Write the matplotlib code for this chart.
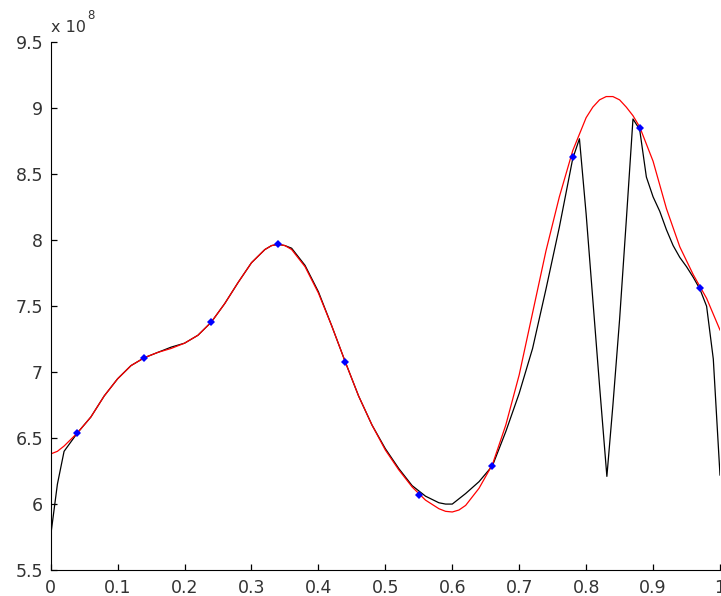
import matplotlib.pyplot as plt

# sample nodes (values in units of 1e8)
node_x = [0.04, 0.14, 0.24, 0.34, 0.44, 0.55, 0.66, 0.78, 0.88, 0.97]
node_y = [6.54, 7.11, 7.38, 7.97, 7.08, 6.07, 6.29, 8.635, 8.85, 7.64]

# measured signal (black)
sig_x = [0.00, 0.01, 0.02, 0.03, 0.04, 0.06, 0.08, 0.10, 0.12, 0.14, 0.16, 0.18,
         0.20, 0.22, 0.24, 0.26, 0.28, 0.30, 0.32, 0.33, 0.34, 0.35, 0.36, 0.38,
         0.40, 0.42, 0.44, 0.46, 0.48, 0.50, 0.52, 0.54, 0.56, 0.58, 0.59, 0.60,
         0.62, 0.64, 0.66, 0.68, 0.70, 0.72, 0.74, 0.76, 0.78, 0.79, 0.80, 0.81,
         0.82, 0.831, 0.84, 0.85, 0.86, 0.87, 0.88, 0.89, 0.90, 0.91, 0.92, 0.93,
         0.94, 0.95, 0.96, 0.97, 0.98, 0.99, 1.00]
sig_y = [5.76, 6.15, 6.40, 6.47, 6.54, 6.66, 6.82, 6.95, 7.05, 7.11, 7.15, 7.19,
         7.22, 7.28, 7.38, 7.52, 7.68, 7.83, 7.93, 7.96, 7.97, 7.96, 7.94, 7.81,
         7.61, 7.35, 7.08, 6.82, 6.60, 6.42, 6.27, 6.14, 6.06, 6.01, 6.00, 6.00,
         6.08, 6.17, 6.29, 6.55, 6.84, 7.18, 7.63, 8.10, 8.62, 8.77, 8.20, 7.55,
         6.90, 6.21, 6.75, 7.40, 8.15, 8.92, 8.84, 8.48, 8.33, 8.22, 8.08, 7.96,
         7.87, 7.80, 7.72, 7.63, 7.50, 7.10, 6.22]

# smooth fit (red)
fit_x = [0.00, 0.01, 0.02, 0.04, 0.06, 0.08, 0.10, 0.12, 0.14, 0.16, 0.18, 0.20,
         0.22, 0.24, 0.26, 0.28, 0.30, 0.32, 0.33, 0.34, 0.35, 0.36, 0.38, 0.40,
         0.42, 0.44, 0.46, 0.48, 0.50, 0.52, 0.54, 0.56, 0.58, 0.59, 0.60, 0.61,
         0.62, 0.64, 0.66, 0.68, 0.70, 0.72, 0.74, 0.76, 0.78, 0.80, 0.81, 0.82,
         0.83, 0.84, 0.85, 0.86, 0.87, 0.88, 0.90, 0.92, 0.94, 0.96, 0.98, 1.00]
fit_y = [6.38, 6.40, 6.44, 6.54, 6.66, 6.82, 6.95, 7.05, 7.11, 7.15, 7.18, 7.22,
         7.28, 7.38, 7.52, 7.68, 7.83, 7.93, 7.96, 7.97, 7.96, 7.93, 7.80, 7.60,
         7.35, 7.08, 6.82, 6.60, 6.41, 6.26, 6.13, 6.03, 5.965, 5.945, 5.94, 5.955,
         5.99, 6.12, 6.30, 6.60, 6.98, 7.45, 7.92, 8.33, 8.68, 8.93, 9.01, 9.065,
         9.09, 9.09, 9.065, 9.01, 8.945, 8.86, 8.60, 8.24, 7.95, 7.74, 7.56, 7.32]

x_ticks = [0, 0.1, 0.2, 0.3, 0.4, 0.5, 0.6, 0.7, 0.8, 0.9, 1]
x_labels = ['0', '0.1', '0.2', '0.3', '0.4', '0.5', '0.6', '0.7', '0.8', '0.9', '1']
y_ticks = [5.5, 6, 6.5, 7, 7.5, 8, 8.5, 9, 9.5]
y_labels = ['5.5', '6', '6.5', '7', '7.5', '8', '8.5', '9', '9.5']

plt.rcParams['font.family'] = ['DejaVu Sans']
text_color = '#333333'

fig = plt.figure(figsize=(7.21, 5.96), dpi=100)
ax = fig.add_axes([0.0703, 0.0436, 0.9283, 0.8851])

ax.plot(sig_x, sig_y, color='black', lw=0.9)
ax.plot(fit_x, fit_y, color='red', lw=0.9)
ax.plot(node_x, node_y, linestyle='none', marker='D', ms=4,
        color='#0000ff', markeredgewidth=0)

ax.set_xlim(0, 1)
ax.set_ylim(5.5, 9.5)
ax.set_xticks(x_ticks)
ax.set_xticklabels(x_labels)
ax.set_yticks(y_ticks)
ax.set_yticklabels(y_labels)

ax.spines['top'].set_visible(False)
ax.spines['right'].set_visible(False)
ax.tick_params(direction='in', length=4.5, width=0.9, labelsize=12.5,
               colors='black', labelcolor=text_color)
ax.tick_params(axis='x', pad=6.5)
ax.tick_params(axis='y', pad=5.5)

# exponent label above the y axis
ax.text(0.001, 1.02, 'x 10', transform=ax.transAxes, ha='left', va='baseline',
        fontsize=11.5, color=text_color)
ax.text(0.054, 1.044, '8', transform=ax.transAxes, ha='left', va='baseline',
        fontsize=8.5, color=text_color)

fig.savefig('out.png', dpi=100)
plt.close(fig)
